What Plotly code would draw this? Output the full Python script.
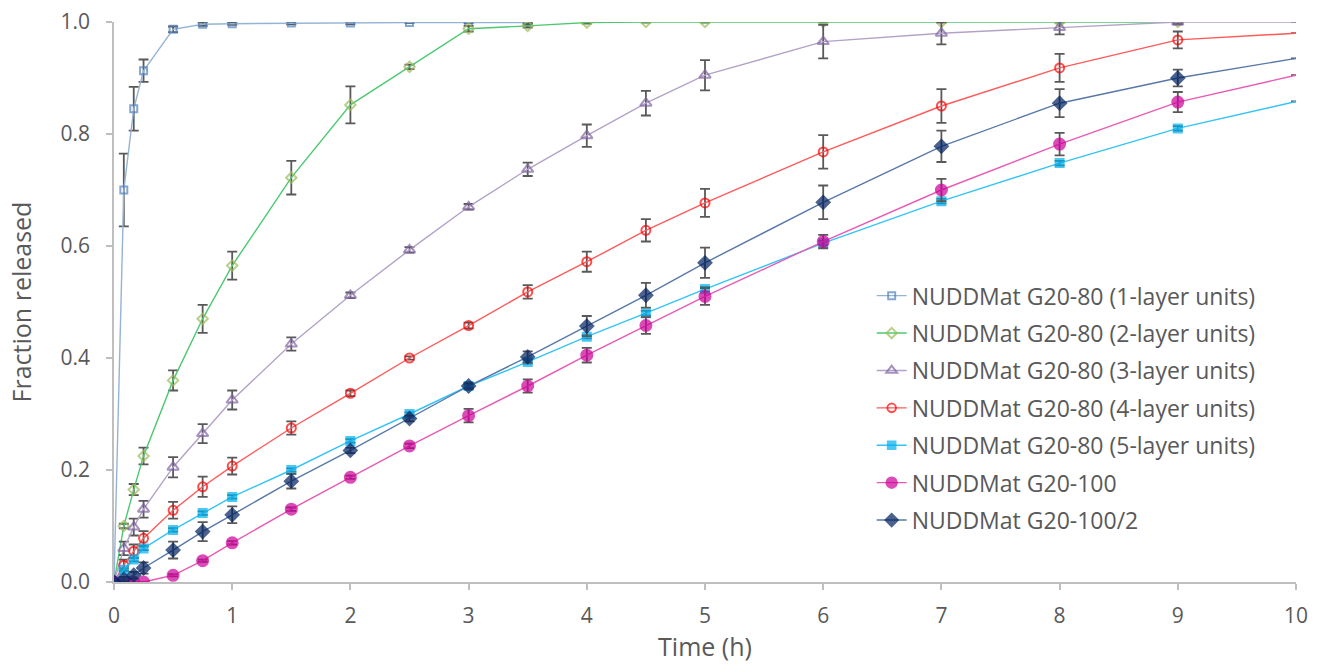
import plotly.graph_objects as go

# ---- data ----
t_full = [0, 0.083, 0.167, 0.25, 0.5, 0.75, 1, 1.5, 2, 2.5, 3, 3.5, 4, 4.5, 5, 6, 7, 8, 9, 10]

names = [
    "NUDDMat G20-80 (1-layer units)",
    "NUDDMat G20-80 (2-layer units)",
    "NUDDMat G20-80 (3-layer units)",
    "NUDDMat G20-80 (4-layer units)",
    "NUDDMat G20-80 (5-layer units)",
    "NUDDMat G20-100",
    "NUDDMat G20-100/2",
]

t_l1 = t_full[:12]
y_l1 = [0, 0.70, 0.845, 0.913, 0.987, 0.996, 0.997, 0.998, 0.998, 0.999, 0.999, 0.999]
e_l1 = [0, 0.065, 0.039, 0.02, 0.005, 0.003, 0.002, 0.002, 0.002, 0.001, 0.001, 0.001]

t_l2 = t_full[:19]
y_l2 = [0, 0.10, 0.165, 0.225, 0.36, 0.47, 0.565, 0.722, 0.852, 0.92, 0.988, 0.993, 0.999, 1.0, 1.0, 1.0, 1.0, 1.0, 1.0]
e_l2 = [0, 0.004, 0.01, 0.015, 0.018, 0.025, 0.025, 0.03, 0.033, 0.004, 0.005, 0.003, 0.002, 0.001, 0.001, 0.001, 0.001, 0.001, 0.001]

t_l3 = t_full
y_l3 = [0, 0.06, 0.098, 0.13, 0.205, 0.265, 0.325, 0.425, 0.512, 0.593, 0.67, 0.737, 0.797, 0.855, 0.905, 0.965, 0.98, 0.99, 1.0, 1.0]
e_l3 = [0, 0.012, 0.015, 0.015, 0.018, 0.017, 0.017, 0.012, 0.005, 0.005, 0.005, 0.012, 0.02, 0.022, 0.027, 0.03, 0.02, 0.012, 0.004, 0]

t_l4 = t_full
y_l4 = [0, 0.03, 0.055, 0.078, 0.128, 0.17, 0.207, 0.275, 0.337, 0.40, 0.458, 0.518, 0.572, 0.628, 0.677, 0.768, 0.85, 0.918, 0.968, 0.98]
e_l4 = [0, 0.01, 0.012, 0.013, 0.015, 0.018, 0.015, 0.012, 0.005, 0.003, 0.005, 0.012, 0.018, 0.02, 0.025, 0.03, 0.03, 0.025, 0.015, 0]

t_l5 = t_full
y_l5 = [0, 0.022, 0.04, 0.06, 0.093, 0.123, 0.152, 0.20, 0.252, 0.30, 0.35, 0.393, 0.438, 0.48, 0.523, 0.605, 0.68, 0.748, 0.81, 0.858]
e_l5 = [0, 0.002, 0.003, 0.003, 0.003, 0.003, 0.003, 0.003, 0.003, 0.003, 0.003, 0.003, 0.003, 0.004, 0.004, 0.004, 0.004, 0.004, 0.004, 0]

t_g100 = t_full
y_g100 = [0, 0.0, 0.0, 0.0, 0.012, 0.038, 0.07, 0.13, 0.187, 0.243, 0.297, 0.35, 0.405, 0.458, 0.51, 0.608, 0.70, 0.782, 0.857, 0.905]
e_g100 = [0, 0, 0, 0, 0.002, 0.002, 0.003, 0.003, 0.003, 0.004, 0.012, 0.012, 0.013, 0.015, 0.015, 0.012, 0.02, 0.02, 0.018, 0]

t_g1002 = t_full
y_g1002 = [0, 0.005, 0.012, 0.025, 0.057, 0.09, 0.12, 0.18, 0.235, 0.292, 0.35, 0.402, 0.457, 0.512, 0.57, 0.678, 0.778, 0.855, 0.90, 0.935]
e_g1002 = [0, 0.004, 0.006, 0.01, 0.015, 0.017, 0.015, 0.013, 0.005, 0.005, 0.005, 0.01, 0.018, 0.022, 0.027, 0.03, 0.028, 0.025, 0.015, 0]

x_ticks = [0, 1, 2, 3, 4, 5, 6, 7, 8, 9, 10]
y_ticks = [0.0, 0.2, 0.4, 0.6, 0.8, 1.0]

# ---- styles ----
series = [
    (t_l1, y_l1, e_l1, "#95b3d7", "#4f81bd", "square-open", 7, False),
    (t_l2, y_l2, e_l2, "#4cc970", "#9bbb59", "diamond-open", 8, False),
    (t_l3, y_l3, e_l3, "#b3a2c7", "#8064a2", "triangle-up-open", 10, True),
    (t_l4, y_l4, e_l4, "#ff5a5a", "#ff0000", "circle-open", 9, True),
    (t_l5, y_l5, e_l5, "#33c4f5", "#00b0f0", "square", 8, True),
    (t_g100, y_g100, e_g100, "#e85ab5", "#cc0099", "circle", 11, True),
    (t_g1002, y_g1002, e_g1002, "#5878a8", "#002060", "diamond", 10, True),
]

fig = go.Figure()
for i, (name, (tx, ty, te, lc, mc, sym, ms, ext)) in enumerate(zip(names, series)):
    sizes = [ms] * len(tx)
    if ext:
        sizes[-1] = 0
    fig.add_trace(go.Scatter(
        x=tx, y=ty, name=name, mode="lines+markers", legendgroup=f"g{i}",
        line=dict(color=lc, width=1.4),
        marker=dict(symbol=sym, size=sizes, color=mc,
                    line=dict(color=mc, width=2)),
        error_y=dict(type="data", array=te, visible=True,
                     color="#595959", thickness=1.8, width=5),
    ))

font_family = "Open Sans, Liberation Sans, sans-serif"
fig.update_layout(
    width=1327, height=666,
    margin=dict(l=114, r=31, t=22, b=84),
    paper_bgcolor="white", plot_bgcolor="white",
    font=dict(family=font_family, color="#595959"),
    showlegend=True,
    legend=dict(x=0.641, y=0.5496, xanchor="left", yanchor="top",
                font=dict(size=23, color="#595959"),
                bgcolor="rgba(0,0,0,0)", tracegroupgap=4.5,
                itemsizing="trace"),
    xaxis=dict(range=[0, 10], tickvals=x_ticks, ticktext=[str(v) for v in x_ticks],
               showgrid=False, zeroline=False, automargin=False,
               showline=True, linecolor="#bfbfbf", linewidth=1.5,
               ticks="outside", tickcolor="#bfbfbf", ticklen=6, tickwidth=1.5,
               ticklabelstandoff=8,
               tickfont=dict(size=21, color="#595959"),
               title=dict(text="Time (h)", font=dict(size=25, color="#595959"), standoff=6)),
    yaxis=dict(range=[0, 1.0], tickvals=y_ticks, ticktext=[f"{v:.1f}" for v in y_ticks],
               showgrid=False, zeroline=False, automargin=False,
               showline=True, linecolor="#bfbfbf", linewidth=1.5,
               ticks="outside", tickcolor="#bfbfbf", ticklen=6, tickwidth=1.5,
               ticklabelstandoff=12,
               tickfont=dict(size=21, color="#595959"),
               title=dict(text="Fraction released", font=dict(size=25, color="#595959"), standoff=22)),
)

fig.write_html("out.html")
